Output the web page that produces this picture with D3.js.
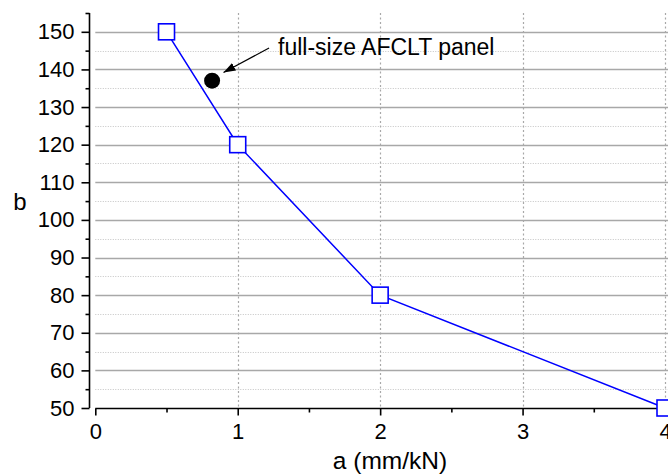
<!DOCTYPE html>
<html>
<head>
<meta charset="utf-8">
<script src="https://cdn.jsdelivr.net/npm/d3@7"></script>
<style>
  html, body { margin: 0; padding: 0; background: #fff; }
  svg { display: block; }
  text { font-family: "Liberation Sans", Arial, sans-serif; fill: #000; }
</style>
</head>
<body>
<svg id="chart" width="668" height="475"></svg>
<script>
// ---- data ----
const aValues = [0.5, 1, 2, 4];          // a (mm/kN)
const bValues = [150, 120, 80, 50];      // b
const panelA = [0.82];                   // full-size AFCLT panel
const panelB = [137];
const annotationText = "full-size AFCLT panel";
const arrowFrom = [1.22, 145.7];         // data coords of arrow tail
const arrowTo = [0.9, 139.2];            // data coords of arrow tip
const xTicks = [0, 1, 2, 3, 4];
const xMinorTicks = [0.5, 1.5, 2.5, 3.5];
const yTicks = [50, 60, 70, 80, 90, 100, 110, 120, 130, 140, 150];
const yMinorTicks = [55, 65, 75, 85, 95, 105, 115, 125, 135, 145, 155];
const xLabel = "a (mm/kN)";
const yLabel = "b";

// ---- layout ----
const svg = d3.select("#chart");
const x = d3.scaleLinear().domain([0, 4]).range([95.3, 665]);
const y = d3.scaleLinear().domain([50, 155]).range([408, 13]);
const yAxisX = 89.5;
const xAxisY = 408.5;
const xEnd = 700;
const FONT = "Liberation Sans, Arial, sans-serif";

// markers
svg.append("defs").append("marker")
  .attr("id", "arrowhead").attr("viewBox", "0 0 10 10")
  .attr("refX", 10).attr("refY", 5)
  .attr("markerWidth", 12).attr("markerHeight", 12)
  .attr("markerUnits", "userSpaceOnUse")
  .attr("orient", "auto")
  .append("path").attr("d", "M0,1.5 L10,5 L0,8.5 Z").attr("fill", "#000");

// ---- grid ----
const grid = svg.append("g");
grid.selectAll(".ymin").data(yMinorTicks.filter(d => d < 155)).join("line")
  .attr("x1", x(0)).attr("x2", xEnd)
  .attr("y1", d => Math.round(y(d)) + 0.5).attr("y2", d => Math.round(y(d)) + 0.5)
  .attr("stroke", "#c4c4c4").attr("stroke-width", 1).attr("stroke-dasharray", "1,1.5");
grid.selectAll(".ymaj").data(yTicks.filter(d => d > 50)).join("line")
  .attr("x1", x(0)).attr("x2", xEnd)
  .attr("y1", d => Math.round(y(d)) + 0.5).attr("y2", d => Math.round(y(d)) + 0.5)
  .attr("stroke", "#a8a8a8").attr("stroke-width", 1.3);
grid.selectAll(".xmaj").data(xTicks.filter(d => d > 0)).join("line")
  .attr("x1", d => Math.round(x(d)) + 0.5).attr("x2", d => Math.round(x(d)) + 0.5)
  .attr("y1", y(155)).attr("y2", xAxisY)
  .attr("stroke", "#a8a8a8").attr("stroke-width", 1.2).attr("stroke-dasharray", "2,2.5");

// ---- axes ----
const yAxis = d3.axisLeft(y).tickValues(yTicks).tickSize(8).tickPadding(7).tickSizeOuter(0)
  .tickFormat(d3.format("d"));
const gy = svg.append("g").attr("transform", `translate(${yAxisX},0)`).call(yAxis);
gy.select(".domain").attr("stroke", "#000").attr("stroke-width", 1.6)
  .attr("d", `M0,${y(155)}V${y(50)}`);
gy.selectAll(".tick line").attr("stroke", "#000").attr("stroke-width", 1.6);
gy.selectAll(".tick text").attr("font-size", 22).attr("font-family", FONT);
const yAxisMinor = d3.axisLeft(y).tickValues(yMinorTicks).tickSize(4).tickFormat("").tickSizeOuter(0);
const gym = svg.append("g").attr("transform", `translate(${yAxisX},0)`).call(yAxisMinor);
gym.select(".domain").remove();
gym.selectAll(".tick line").attr("stroke", "#000").attr("stroke-width", 1.6);

const xAxis = d3.axisBottom(x).tickValues(xTicks).tickSize(7).tickPadding(8).tickSizeOuter(0)
  .tickFormat(d3.format("d"));
const gx = svg.append("g").attr("transform", `translate(0,${xAxisY})`).call(xAxis);
gx.select(".domain").attr("stroke", "#000").attr("stroke-width", 1.6)
  .attr("d", `M${x(0)},0H${xEnd}`);
gx.selectAll(".tick line").attr("stroke", "#000").attr("stroke-width", 1.6);
gx.selectAll(".tick text").attr("font-size", 22).attr("font-family", FONT);
const xAxisMinor = d3.axisBottom(x).tickValues(xMinorTicks).tickSize(4).tickFormat("").tickSizeOuter(0);
const gxm = svg.append("g").attr("transform", `translate(0,${xAxisY})`).call(xAxisMinor);
gxm.select(".domain").remove();
gxm.selectAll(".tick line").attr("stroke", "#000").attr("stroke-width", 1.6);

// axis titles
svg.append("text").attr("x", 390).attr("y", 469).attr("text-anchor", "middle")
  .attr("font-size", 24.5).text(xLabel);
svg.append("text").attr("x", 20).attr("y", 210).attr("text-anchor", "middle")
  .attr("font-size", 24).text(yLabel);

// ---- series ----
const pts = aValues.map((a, i) => [a, bValues[i]]);
svg.append("path").datum(pts)
  .attr("fill", "none").attr("stroke", "#0000ff").attr("stroke-width", 1.5)
  .attr("d", d3.line().x(d => x(d[0])).y(d => y(d[1])));
const sq = 16;
svg.selectAll(".sq").data(pts).join("rect")
  .attr("x", d => x(d[0]) - sq / 2).attr("y", d => y(d[1]) - sq / 2)
  .attr("width", sq).attr("height", sq)
  .attr("fill", "#fff").attr("stroke", "#0000ff").attr("stroke-width", 1.6);

// panel point
svg.selectAll(".panel").data(panelA.map((a, i) => [a, panelB[i]])).join("circle")
  .attr("cx", d => x(d[0])).attr("cy", d => y(d[1])).attr("r", 8)
  .attr("fill", "#000");

// annotation
svg.append("line")
  .attr("x1", x(arrowFrom[0])).attr("y1", y(arrowFrom[1]))
  .attr("x2", x(arrowTo[0])).attr("y2", y(arrowTo[1]))
  .attr("stroke", "#000").attr("stroke-width", 1.2)
  .attr("marker-end", "url(#arrowhead)");
svg.append("text").attr("x", 278).attr("y", 55)
  .attr("font-size", 23).text(annotationText);
</script>
</body>
</html>
